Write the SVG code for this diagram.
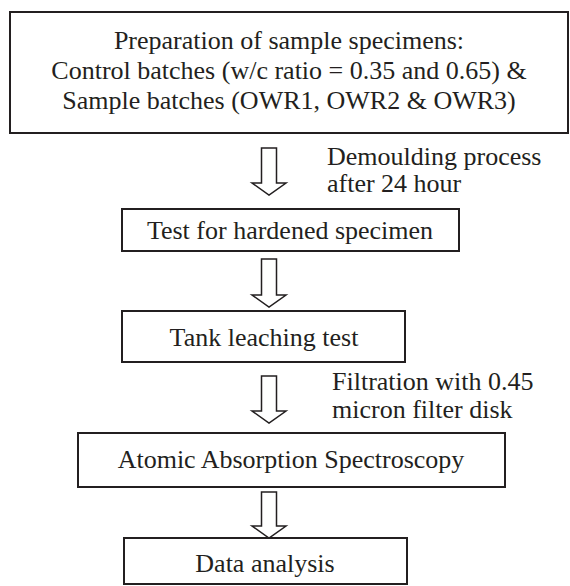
<svg xmlns="http://www.w3.org/2000/svg" width="570" height="586" viewBox="0 0 570 586">
<style>
.box{fill:#fff;stroke:#231f20;stroke-width:2}
.t{font-family:"Liberation Serif","Times New Roman",serif;font-size:26px;fill:#231f20}
.c{text-anchor:middle}
.arr{fill:#fff;stroke:#231f20;stroke-width:1.5;stroke-linejoin:miter}
</style>
<rect width="570" height="586" fill="#fff"/>
<g id="n1">
<rect class="box" x="10" y="12" width="558" height="121"/>
<text class="t c" x="289" y="49">Preparation of sample specimens:</text>
<text class="t c" x="289" y="79">Control batches (w/c ratio = 0.35 and 0.65) &amp;</text>
<text class="t c" x="289" y="109">Sample batches (OWR1, OWR2 &amp; OWR3)</text>
</g>
<g id="n2">
<rect class="box" x="122" y="209" width="337" height="42"/>
<text class="t c" x="290" y="239">Test for hardened specimen</text>
</g>
<g id="n3">
<rect class="box" x="122" y="311" width="283" height="51"/>
<text class="t c" x="264" y="346">Tank leaching test</text>
</g>
<g id="n4">
<rect class="box" x="78" y="433" width="427" height="54"/>
<text class="t c" x="291" y="468">Atomic Absorption Spectroscopy</text>
</g>
<g id="n5">
<rect class="box" x="124" y="538" width="283" height="46"/>
<text class="t c" x="265" y="572">Data analysis</text>
</g>
<g id="connectors">
<path class="arr" d="M261.5,148 H276.5 V183 H286 L269,195 L252,183 H261.5 Z"/>
<text class="t" x="327" y="165">Demoulding process</text>
<text class="t" x="327" y="192">after 24 hour</text>
<path class="arr" d="M261.5,259 H276.5 V295 H286 L269,307 L252,295 H261.5 Z"/>
<path class="arr" d="M261.5,376 H276.5 V411 H286 L269,423 L252,411 H261.5 Z"/>
<text class="t" x="332" y="390">Filtration with 0.45</text>
<text class="t" x="332" y="418">micron filter disk</text>
<path class="arr" d="M261.5,492 H276.5 V526 H286 L269,538 L252,526 H261.5 Z"/>
</g>
</svg>
